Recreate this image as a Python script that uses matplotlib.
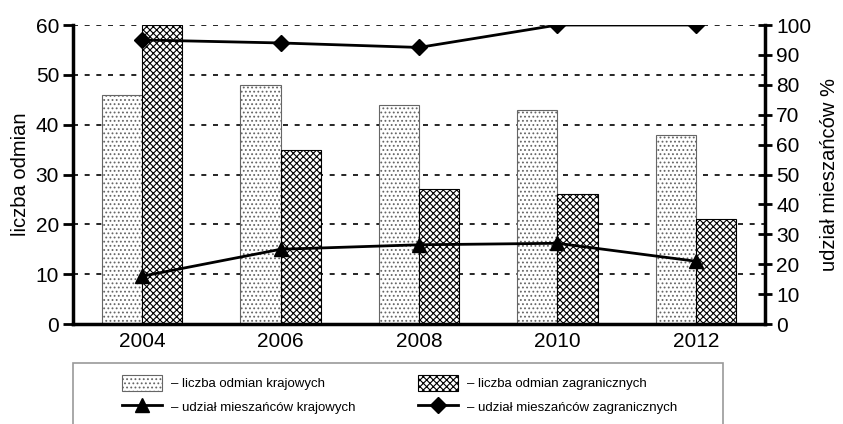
import matplotlib
matplotlib.use("Agg")
import matplotlib.pyplot as plt
import numpy as np
from matplotlib.patches import Patch, Rectangle
from matplotlib.lines import Line2D

plt.rcParams['font.family'] = ['Liberation Sans', 'DejaVu Sans']
plt.rcParams['hatch.linewidth'] = 0.8

years = ['2004', '2006', '2008', '2010', '2012']
odmiany_krajowe = [46, 48, 44, 43, 38]
odmiany_zagraniczne = [60, 35, 27, 26, 21]
mieszance_krajowe = [16, 25, 26.5, 27, 21]
mieszance_zagraniczne = [95, 94, 92.5, 100, 100]

x = np.arange(len(years))
w = 0.29
dots = dict(facecolor='white', edgecolor='#666666', hatch='....', linewidth=0.8)
cross = dict(facecolor='white', edgecolor='black', hatch='xxxxx', linewidth=0.8)

fig = plt.figure(figsize=(8.43, 4.24), dpi=100)
ax = fig.add_axes([0.0866, 0.2358, 0.8209, 0.7052])

ax.bar(x - w / 2, odmiany_krajowe, w, zorder=2, **dots)
ax.bar(x + w / 2, odmiany_zagraniczne, w, zorder=2, **cross)

ax.set_xlim(-0.5, 4.5)
ax.set_ylim(0, 60)
ax.set_yticks(range(0, 61, 10))
ax.set_xticks(x)
ax.set_xticklabels(years)
ax.yaxis.grid(True, linestyle=(0, (3, 4)), color='black', linewidth=1.2, zorder=1)
ax.set_axisbelow(True)
ax.tick_params(axis='x', length=0, labelsize=15, pad=6)
ax.tick_params(axis='y', length=7, width=2, labelsize=15, direction='out', pad=3)
ax.set_ylabel('liczba odmian', fontsize=14.5, labelpad=4)
for s in ['top', 'right']:
    ax.spines[s].set_visible(False)
for s in ['left', 'bottom']:
    ax.spines[s].set_linewidth(2.5)

ax2 = ax.twinx()
ax2.plot(x, mieszance_zagraniczne, color='black', lw=2, marker='D', ms=8, zorder=5)
ax2.plot(x, mieszance_krajowe, color='black', lw=2, marker='^', ms=10, zorder=5)
ax2.set_ylim(0, 100)
ax2.set_yticks(range(0, 101, 10))
ax2.tick_params(axis='y', length=10, width=2, labelsize=15, direction='inout', pad=3)
ax2.set_ylabel('udział mieszańców %', fontsize=14.5, rotation=90, labelpad=6)
for s in ['top', 'left', 'bottom']:
    ax2.spines[s].set_visible(False)
ax2.spines['right'].set_linewidth(2.5)

# legend box, open at the bottom edge of the picture
fig.add_artist(Rectangle((73 / 843, -0.1), 650 / 843, 0.1 + 1 - 363 / 424,
                         transform=fig.transFigure, fill=False,
                         edgecolor='#999999', linewidth=1.2))

leg_kw = dict(loc='upper left', fontsize=9.5, frameon=False, handlelength=3.0,
              handleheight=1.5, handletextpad=0.7, labelspacing=0.55,
              borderpad=0, borderaxespad=0)
fig.legend([Patch(**dots), Line2D([], [], color='black', lw=2, marker='^', ms=10)],
           ['– liczba odmian krajowych', '– udział mieszańców krajowych'],
           bbox_to_anchor=(122 / 843, 1 - 375 / 424), **leg_kw)
fig.legend([Patch(**cross), Line2D([], [], color='black', lw=2, marker='D', ms=8)],
           ['– liczba odmian zagranicznych', '– udział mieszańców zagranicznych'],
           bbox_to_anchor=(418 / 843, 1 - 375 / 424), **leg_kw)

fig.savefig('out.png', dpi=100)
